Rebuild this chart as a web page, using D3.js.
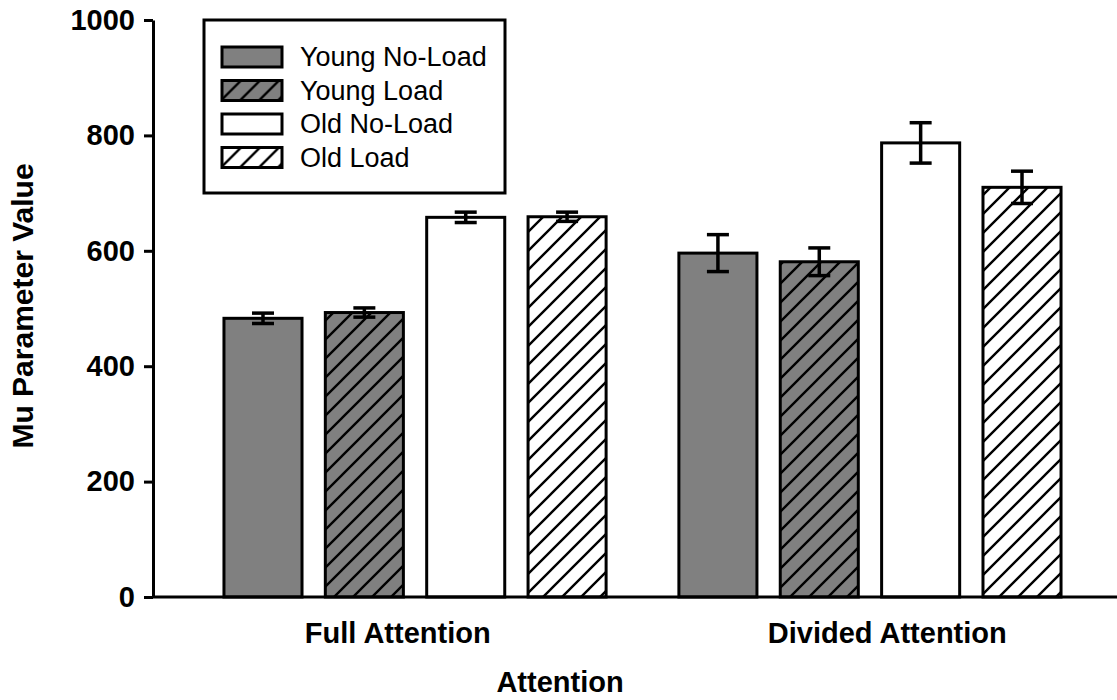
<!DOCTYPE html>
<html>
<head>
<meta charset="utf-8">
<script src="https://d3js.org/d3.v7.min.js"></script>
<style>
  body { margin: 0; background: #fff; }
  svg { display: block; font-family: "Liberation Sans", Arial, sans-serif; }
</style>
</head>
<body>
<svg id="chart" width="1117" height="700"></svg>
<script>
// data
var groups = ["Full Attention", "Divided Attention"];
var series = ["Young No-Load", "Young Load", "Old No-Load", "Old Load"];
var fullValues = [483, 493, 658, 659];
var fullErrors = [9, 8, 9, 8];
var dividedValues = [596, 581, 787, 710];
var dividedErrors = [32, 24, 35, 28];
var yTicks = [0, 200, 400, 600, 800, 1000];

var fills = ["#808080", "#808080", "#ffffff", "#ffffff"];
var hatched = [false, true, false, true];

(function() {
var svg = d3.select("#chart");
var plotLeft = 153, plotRight = 1132, plotTop = 20, plotBottom = 597;

var data = [];
groups.forEach(function(g, gi) {
  var vals = gi == 0 ? fullValues : dividedValues;
  var errs = gi == 0 ? fullErrors : dividedErrors;
  series.forEach(function(s, si) {
    data.push({group: g, series: s, si: si, value: vals[si], err: errs[si]});
  });
});

var y = d3.scaleLinear().domain([0, 1000]).range([plotBottom, plotTop]);

var x0 = d3.scaleBand().domain(groups).range([plotLeft, plotRight])
  .paddingInner(0.16).paddingOuter(0.156);
var x1 = d3.scaleBand().domain(series).range([0, x0.bandwidth()])
  .paddingInner(0.23).paddingOuter(0);
// label positions (category centers)
var xl = d3.scaleBand().domain(groups).range([plotLeft, plotRight]);

// hatch patterns
var defs = svg.append("defs");
[["hatchGray", "#808080"], ["hatchWhite", "#ffffff"]].forEach(function(p) {
  var pat = defs.append("pattern")
    .attr("id", p[0])
    .attr("patternUnits", "userSpaceOnUse")
    .attr("width", 19).attr("height", 19);
  pat.append("rect").attr("width", 19).attr("height", 19).attr("fill", p[1]);
  pat.append("path")
    .attr("d", "M-5,5 L5,-5 M0,19 L19,0 M14,24 L24,14")
    .attr("stroke", "#000").attr("stroke-width", 2.4);
});

function fillFor(si) {
  if (hatched[si]) return fills[si] == "#808080" ? "url(#hatchGray)" : "url(#hatchWhite)";
  return fills[si];
}

// bars
svg.append("g").selectAll("rect")
  .data(data).enter().append("rect")
  .attr("x", function(d) { return x0(d.group) + x1(d.series); })
  .attr("y", function(d) { return y(d.value); })
  .attr("width", x1.bandwidth())
  .attr("height", function(d) { return y(0) - y(d.value); })
  .attr("fill", function(d) { return fillFor(d.si); })
  .attr("stroke", "#000")
  .attr("stroke-width", 3);

// error bars
var eb = svg.append("g").attr("stroke", "#000").attr("stroke-width", 3.5);
data.forEach(function(d) {
  var cx = x0(d.group) + x1(d.series) + x1.bandwidth() / 2;
  eb.append("line").attr("x1", cx).attr("x2", cx)
    .attr("y1", y(d.value + d.err)).attr("y2", y(d.value - d.err));
  [d.value + d.err, d.value - d.err].forEach(function(v) {
    eb.append("line").attr("x1", cx - 11).attr("x2", cx + 11)
      .attr("y1", y(v)).attr("y2", y(v));
  });
});

// y axis
var yAxis = svg.append("g")
  .attr("transform", "translate(" + plotLeft + ",0)")
  .call(d3.axisLeft(y).tickValues(yTicks).tickFormat(d3.format("d"))
    .tickSize(9).tickPadding(9).tickSizeOuter(0));
yAxis.select(".domain").attr("stroke-width", 3);
yAxis.selectAll(".tick line").attr("stroke-width", 3);
yAxis.selectAll(".tick text")
  .attr("font-size", "29px").attr("font-weight", "bold")
  .attr("font-family", "Liberation Sans, Arial, sans-serif").attr("fill", "#000");

// x axis line
svg.append("line")
  .attr("x1", plotLeft).attr("x2", 1117)
  .attr("y1", plotBottom).attr("y2", plotBottom)
  .attr("stroke", "#000").attr("stroke-width", 3);

// category labels
svg.append("g").selectAll("text")
  .data(groups).enter().append("text")
  .attr("x", function(d) { return xl(d) + xl.bandwidth() / 2; })
  .attr("y", 643)
  .attr("text-anchor", "middle")
  .attr("font-size", "29px").attr("font-weight", "bold")
  .text(function(d) { return d; });

// axis titles
svg.append("text")
  .attr("x", 560).attr("y", 692)
  .attr("text-anchor", "middle")
  .attr("font-size", "29px").attr("font-weight", "bold")
  .text("Attention");

svg.append("text")
  .attr("transform", "translate(33,306) rotate(-90)")
  .attr("text-anchor", "middle")
  .attr("font-size", "30px").attr("font-weight", "bold")
  .text("Mu Parameter Value");

// legend
var legend = svg.append("g").attr("transform", "translate(204,20)");
legend.append("rect")
  .attr("width", 301).attr("height", 173)
  .attr("fill", "#fff").attr("stroke", "#000").attr("stroke-width", 3);
var items = legend.selectAll(".item")
  .data(series).enter().append("g")
  .attr("transform", function(d, i) { return "translate(18," + (27 + i * 33.5) + ")"; });
items.append("rect")
  .attr("width", 60).attr("height", 20)
  .attr("fill", function(d, i) { return fillFor(i); })
  .attr("stroke", "#000").attr("stroke-width", 3);
items.append("text")
  .attr("x", 78).attr("y", 19)
  .attr("font-size", "27px")
  .text(function(d) { return d; });
})();
</script>
</body>
</html>
